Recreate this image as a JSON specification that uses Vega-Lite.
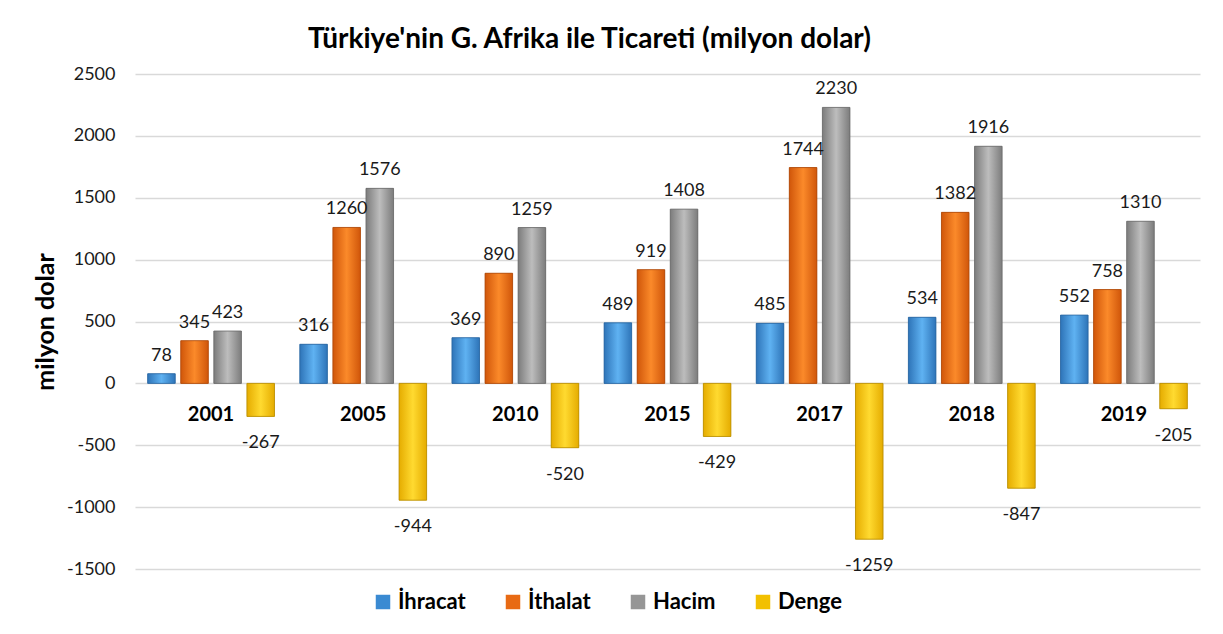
{
  "$schema": "https://vega.github.io/schema/vega-lite/v6.json",
  "width": 1065,
  "height": 495,
  "autosize": {"type": "none"},
  "padding": {"left": 135, "top": 74, "right": 23, "bottom": 65},
  "background": "white",
  "title": {
    "text": "Türkiye'nin G. Afrika ile Ticareti (milyon dolar)",
    "font": "Lato",
    "fontSize": 28,
    "fontWeight": "bold",
    "color": "#000000",
    "anchor": "middle",
    "dx": -78,
    "offset": 11
  },
  "config": {
    "view": {"stroke": null},
    "font": "Lato"
  },
  "data": {
    "values": [
      {"year": "2001", "series": "İhracat", "value": 78},
      {"year": "2001", "series": "İthalat", "value": 345},
      {"year": "2001", "series": "Hacim", "value": 423},
      {"year": "2001", "series": "Denge", "value": -267},
      {"year": "2005", "series": "İhracat", "value": 316},
      {"year": "2005", "series": "İthalat", "value": 1260},
      {"year": "2005", "series": "Hacim", "value": 1576},
      {"year": "2005", "series": "Denge", "value": -944},
      {"year": "2010", "series": "İhracat", "value": 369},
      {"year": "2010", "series": "İthalat", "value": 890},
      {"year": "2010", "series": "Hacim", "value": 1259},
      {"year": "2010", "series": "Denge", "value": -520},
      {"year": "2015", "series": "İhracat", "value": 489},
      {"year": "2015", "series": "İthalat", "value": 919},
      {"year": "2015", "series": "Hacim", "value": 1408},
      {"year": "2015", "series": "Denge", "value": -429},
      {"year": "2017", "series": "İhracat", "value": 485},
      {"year": "2017", "series": "İthalat", "value": 1744},
      {"year": "2017", "series": "Hacim", "value": 2230},
      {"year": "2017", "series": "Denge", "value": -1259},
      {"year": "2018", "series": "İhracat", "value": 534},
      {"year": "2018", "series": "İthalat", "value": 1382},
      {"year": "2018", "series": "Hacim", "value": 1916},
      {"year": "2018", "series": "Denge", "value": -847},
      {"year": "2019", "series": "İhracat", "value": 552},
      {"year": "2019", "series": "İthalat", "value": 758},
      {"year": "2019", "series": "Hacim", "value": 1310},
      {"year": "2019", "series": "Denge", "value": -205}
    ]
  },
  "encoding": {
    "x": {
      "field": "year",
      "type": "nominal",
      "sort": null,
      "axis": null,
      "scale": {"paddingInner": 0, "paddingOuter": 0}
    },
    "xOffset": {
      "field": "series",
      "type": "nominal",
      "scale": {
        "domain": ["İhracat", "İthalat", "Hacim", "Denge"],
        "paddingInner": 0.167,
        "paddingOuter": 0.383
      }
    },
    "y": {
      "field": "value",
      "type": "quantitative",
      "scale": {"domain": [-1500, 2500], "nice": false, "zero": true},
      "axis": {
        "values": [-1500, -1000, -500, 0, 500, 1000, 1500, 2000, 2500],
        "labelExpr": "'' + datum.value",
        "title": "milyon dolar",
        "titleFont": "Lato",
        "titleFontSize": 25,
        "titleFontWeight": "bold",
        "titleColor": "#000000",
        "titlePadding": 8,
        "labelFont": "Lato",
        "labelFontSize": 18,
        "labelColor": "#1a1a1a",
        "labelPadding": 20,
        "domain": false,
        "ticks": false,
        "grid": true,
        "gridColor": "#d9d9d9",
        "gridWidth": 1.5
      }
    }
  },
  "layer": [
    {
      "mark": {"type": "bar"},
      "encoding": {
        "color": {
          "field": "series",
          "type": "nominal",
          "scale": {
            "domain": ["İhracat", "İthalat", "Hacim", "Denge"],
            "range": ["#3a8ad2", "#e86a14", "#969696", "#f2c000"]
          },
          "legend": {
            "title": null,
            "orient": "none",
            "legendX": 237,
            "legendY": 517,
            "direction": "horizontal",
            "symbolType": "square",
            "symbolSize": 210,
            "symbolStrokeWidth": 0,
            "symbolOpacity": 1,
            "labelFont": "Lato",
            "labelFontSize": 22,
            "labelFontWeight": "bold",
            "labelColor": "#000000",
            "labelOffset": 4,
            "columnPadding": 36
          }
        }
      }
    },
    {
      "transform": [{"filter": "datum.series === 'İhracat'"}],
      "mark": {"type": "bar", "stroke": "#2a659e", "strokeWidth": 0.8, "fill": {"gradient": "linear", "x1": 0, "y1": 0, "x2": 1, "y2": 0, "stops": [{"offset": 0, "color": "#2e74b8"}, {"offset": 0.5, "color": "#5fb2f2"}, {"offset": 1, "color": "#2e74b8"}]}}
    },
    {
      "transform": [{"filter": "datum.series === 'İthalat'"}],
      "mark": {"type": "bar", "stroke": "#a9470a", "strokeWidth": 0.8, "fill": {"gradient": "linear", "x1": 0, "y1": 0, "x2": 1, "y2": 0, "stops": [{"offset": 0, "color": "#d0560a"}, {"offset": 0.5, "color": "#fb8a2a"}, {"offset": 1, "color": "#d0560a"}]}}
    },
    {
      "transform": [{"filter": "datum.series === 'Hacim'"}],
      "mark": {"type": "bar", "stroke": "#6a6a6a", "strokeWidth": 0.8, "fill": {"gradient": "linear", "x1": 0, "y1": 0, "x2": 1, "y2": 0, "stops": [{"offset": 0, "color": "#7c7c7c"}, {"offset": 0.5, "color": "#bdbdbd"}, {"offset": 1, "color": "#7c7c7c"}]}}
    },
    {
      "transform": [{"filter": "datum.series === 'Denge'"}],
      "mark": {"type": "bar", "stroke": "#b58a00", "strokeWidth": 0.8, "fill": {"gradient": "linear", "x1": 0, "y1": 0, "x2": 1, "y2": 0, "stops": [{"offset": 0, "color": "#e5ac00"}, {"offset": 0.5, "color": "#ffda30"}, {"offset": 1, "color": "#e5ac00"}]}}
    },
    {
      "transform": [{"filter": "datum.value >= 0"}],
      "mark": {"type": "text", "baseline": "bottom", "dy": -9, "fontSize": 18, "font": "Lato", "color": "#1a1a1a"},
      "encoding": {
        "text": {"field": "value", "type": "nominal"}
      }
    },
    {
      "transform": [{"filter": "datum.value < 0"}],
      "mark": {"type": "text", "baseline": "top", "dy": 18, "fontSize": 18, "font": "Lato", "color": "#1a1a1a"},
      "encoding": {
        "text": {"field": "value", "type": "nominal"}
      }
    },
    {
      "transform": [{"filter": "datum.series === 'İhracat'"}],
      "mark": {"type": "text", "baseline": "middle", "dy": 32, "fontSize": 20, "fontWeight": "bold", "font": "Lato", "color": "#000000"},
      "encoding": {
        "xOffset": {"value": 76},
        "y": {"datum": 0},
        "text": {"field": "year", "type": "nominal"}
      }
    }
  ]
}
